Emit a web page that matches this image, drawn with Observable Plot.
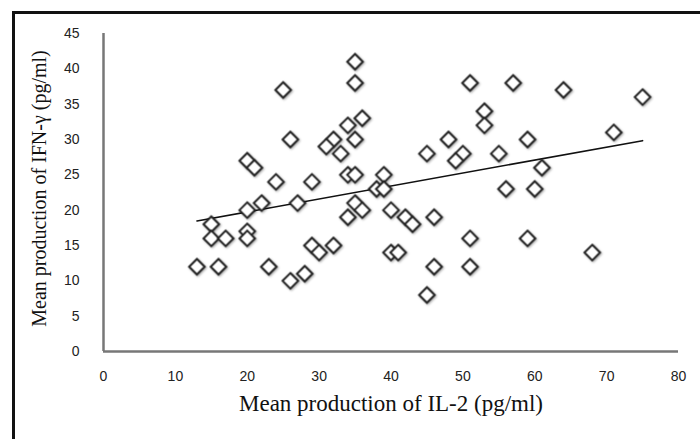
<!DOCTYPE html>
<html>
<head>
<meta charset="utf-8">
<script src="https://cdn.jsdelivr.net/npm/d3@7"></script>
<script src="https://cdn.jsdelivr.net/npm/@observablehq/plot@0.6"></script>
<style>
  html, body { margin: 0; padding: 0; background: #fff; }
  #wrap { position: relative; width: 700px; height: 439px; overflow: hidden; }
  #frame { position: absolute; left: 12px; top: 11px; width: 700px; height: 460px;
           border-left: 3px solid #111; border-top: 3px solid #111; pointer-events: none; }
  .pts { filter: drop-shadow(1px 1.5px 1px rgba(0,0,0,0.35)); }
</style>
</head>
<body>
<div id="wrap"><div id="frame"></div></div>
<script>
// IL-2 (x) and IFN-gamma (y) mean production, pg/ml
const il2 = [35,35,25,36,34,26,32,35,31,33,20,21,24,29,34,35,39,22,27,35,38,39,20,36,34,40,15,20,15,17,20,13,16,23,29,30,32,26,28,40,41,
             51,57,64,75,53,53,48,59,71,45,50,49,55,61,56,60,42,43,46,51,59,46,51,68,45];
const ifng = [41,38,37,33,32,30,30,30,29,28,27,26,24,24,25,25,25,21,21,21,23,23,20,20,19,20,18,17,16,16,16,12,12,12,15,14,15,10,11,14,14,
              38,38,37,36,34,32,30,30,31,28,28,27,28,26,23,23,19,18,19,16,16,12,12,14,8];
const xTicks = [0,10,20,30,40,50,60,70,80];
const yTicks = [0,5,10,15,20,25,30,35,40,45];
const xTitle = "Mean production of IL-2 (pg/ml)";
const yTitle = "Mean production of IFN-\u03b3 (pg/ml)";

const data = il2.map((x, i) => ({x, y: ifng[i]}));

const chart = Plot.plot({
  width: 700,
  height: 439,
  marginLeft: 103,
  marginRight: 22,
  marginTop: 33,
  marginBottom: 88,
  x: {domain: [0, 80]},
  y: {domain: [0, 45]},
  style: {background: "transparent"},
  marks: [
    Plot.axisX({ticks: xTicks, tickSize: 0, tickPadding: 20, label: null,
                fontSize: 14, fontFamily: "Liberation Sans", fill: "#222"}),
    Plot.axisY({ticks: yTicks, tickSize: 0, tickPadding: 24, label: null,
                fontSize: 14, fontFamily: "Liberation Sans", fill: "#222"}),
    Plot.ruleX([0], {stroke: "#777", strokeWidth: 2.5}),
    Plot.ruleY([0], {stroke: "#777", strokeWidth: 2.5}),
    Plot.linearRegressionY(data, {x: "x", y: "y", ci: 0, stroke: "#111", strokeWidth: 1.6}),
    Plot.dot(data, {x: "x", y: "y", symbol: "diamond2", r: 7, fill: "white",
                    stroke: "#222", strokeWidth: 2, className: "pts"}),
    Plot.text([xTitle], {frameAnchor: "bottom", dy: 59, fontSize: 23,
                         fontFamily: "Liberation Serif", fill: "#111"}),
    Plot.text([yTitle], {frameAnchor: "left", textAnchor: "middle", dx: -64, dy: -4, rotate: -90, fontSize: 20,
                         fontFamily: "Liberation Serif", fill: "#111"})
  ]
});
document.getElementById("wrap").prepend(chart);
</script>
</body>
</html>
